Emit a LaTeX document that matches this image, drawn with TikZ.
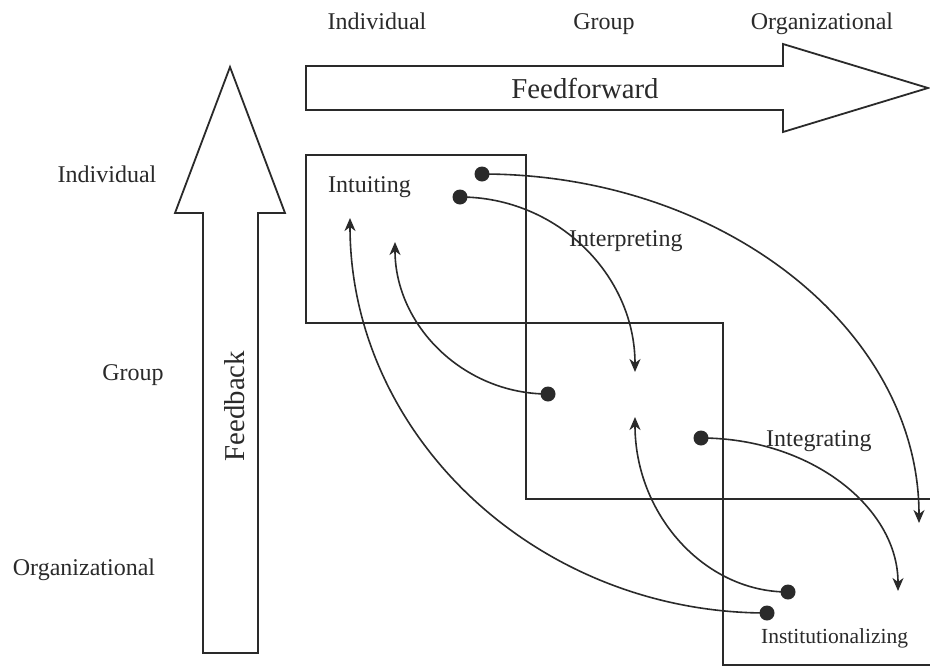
\documentclass[tikz,border=0pt]{standalone}
\usepackage{fontspec}
\setmainfont{Liberation Serif}
\usetikzlibrary{arrows.meta}
\definecolor{ink}{HTML}{2A2A2A}
\tikzset{
  lbl/.style={inner sep=0pt, text=ink, font=\fontsize{24}{28}\selectfont},
  smlbl/.style={inner sep=0pt, text=ink, font=\fontsize{21.5}{26}\selectfont},
  biglbl/.style={inner sep=0pt, text=ink, font=\fontsize{28.8}{34}\selectfont},
  bigarrow/.style={draw=ink, line width=1.8pt, fill=white, line join=miter},
  boxline/.style={draw=ink, line width=1.8pt},
  dot/.style={circle, fill=ink, inner sep=0pt, minimum size=15pt},
  flow/.style={draw=ink, line width=1.6pt, -{Stealth[length=13pt,width=11pt,inset=4pt]}}
}
\begin{document}
\begin{tikzpicture}[x=1pt,y=-1pt]
\useasboundingbox (0,0) rectangle (930,667);
\fill[white] (0,0) rectangle (930,667);
% big arrows
\draw[bigarrow] (306,66) -- (783,66) -- (783,44) -- (928,88) -- (783,132) -- (783,110) -- (306,110) -- cycle;
\draw[bigarrow] (203,653) -- (203,213) -- (175,213) -- (230,67) -- (285,213) -- (258,213) -- (258,653) -- cycle;
\node[biglbl, anchor=base] (ff) at (585,98) {Feedforward};
\node[biglbl, anchor=base, rotate=90] (fb) at (244,406) {Feedback};
% boxes
\draw[boxline] (306,155) rectangle (526,323);
\draw[boxline] (526,323) rectangle (723,499);
\draw[boxline] (723,499) rectangle (932,665);
% axis labels
\node[lbl, anchor=base] (ti) at (377,29) {Individual};
\node[lbl, anchor=base] (tg) at (604,29) {Group};
\node[lbl, anchor=base] (to) at (822,29) {Organizational};
\node[lbl, anchor=base] (li) at (107,182) {Individual};
\node[lbl, anchor=base] (lg) at (133,380) {Group};
\node[lbl, anchor=base] (lo) at (84,575) {Organizational};
% process labels
\node[lbl, anchor=base west] (intu) at (328,192) {Intuiting};
\node[lbl, anchor=base west] (inte) at (569,246) {Interpreting};
\node[lbl, anchor=base west] (integ) at (766,446) {Integrating};
\node[smlbl, anchor=base west] (inst) at (761,643) {Institutionalizing};
% dots
\node[dot] (d1) at (482,174) {};
\node[dot] (d2) at (460,197) {};
\node[dot] (d3) at (548,394) {};
\node[dot] (d4) at (701,438) {};
\node[dot] (d5) at (788,592) {};
\node[dot] (d6) at (767,613) {};
% tips
\coordinate (t1) at (919,523);
\coordinate (t2) at (635,372);
\coordinate (t3) at (395,242);
\coordinate (t4) at (898,591);
\coordinate (t5) at (635,417);
\coordinate (t6) at (350,218);
% flows
\draw[flow] (d1.center) .. controls (723,174) and (919,330) .. (t1);
\draw[flow] (d2.center) .. controls (557,197) and (635,275) .. (t2);
\draw[flow] (d3.center) .. controls (464,394) and (395,326) .. (t3);
\draw[flow] (d4.center) .. controls (810,438) and (898,507) .. (t4);
\draw[flow] (d5.center) .. controls (704,592) and (635,514) .. (t5);
\draw[flow] (d6.center) .. controls (537,613) and (350,436) .. (t6);
\end{tikzpicture}
\end{document}
